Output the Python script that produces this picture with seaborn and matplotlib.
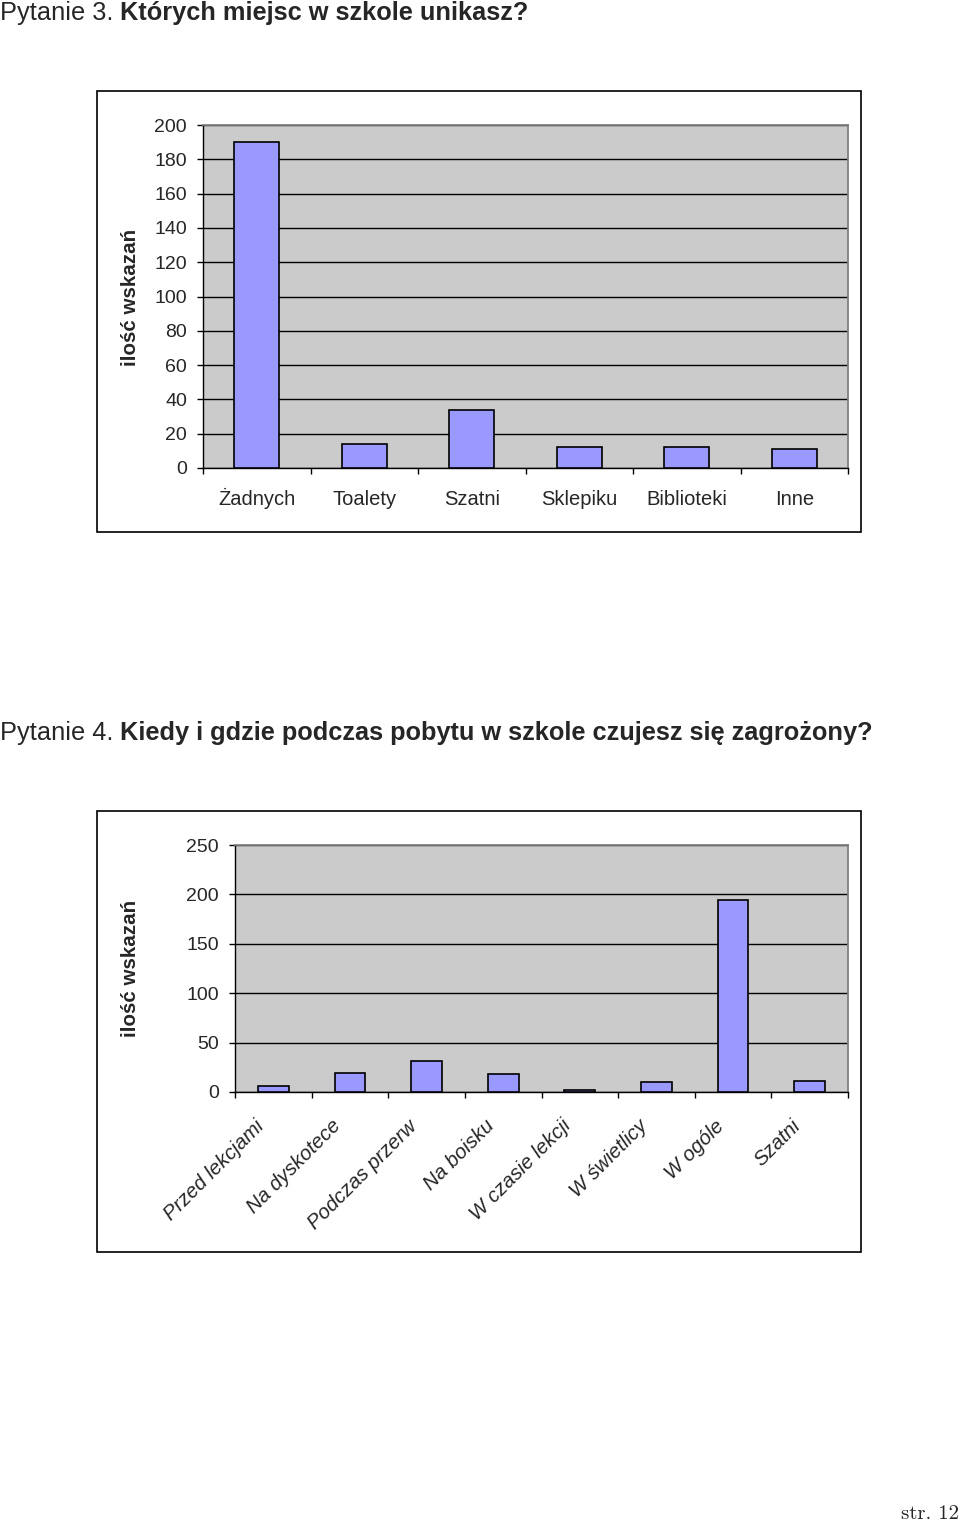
import matplotlib
matplotlib.use("Agg")
import matplotlib.pyplot as plt
import seaborn as sns
import pandas as pd
from matplotlib.patches import Rectangle
from matplotlib.ticker import FixedLocator, MultipleLocator
from matplotlib.transforms import ScaledTranslation

# ---- data ----
q3_categories = ["Żadnych", "Toalety", "Szatni", "Sklepiku", "Biblioteki", "Inne"]
q3_values = [190, 14, 34, 12, 12, 11]

q4_categories = ["Przed lekcjami", "Na dyskotece", "Podczas przerw", "Na boisku",
                 "W czasie lekcji", "W świetlicy", "W ogóle", "Szatni"]
q4_values = [6, 19, 31, 18, 2, 10, 194, 11]

q3_title_plain = "Pytanie 3. "
q3_title_bold = "Których miejsc w szkole unikasz?"
q4_title_plain = "Pytanie 4. "
q4_title_bold = "Kiedy i gdzie podczas pobytu w szkole czujesz się zagrożony?"
y_label = "ilość wskazań"
page_label = "str. 12"

sns.set_style("white")
plt.rcParams["font.family"] = ["Liberation Sans", "DejaVu Sans"]

W, H = 960, 1521
fig = plt.figure(figsize=(W / 100, H / 100), dpi=100)
fig.patch.set_facecolor("white")

BAR = "#9999FF"
BG = "#CBCBCB"
FS = 14


def fx(px):
    return px / W


def fy(py):
    return 1 - py / H


def axes_px(x0, y0, x1, y1):
    return fig.add_axes([fx(x0), fy(y1), fx(x1) - fx(x0), (y1 - y0) / H])


def style_axes(ax, n, ymax, ystep):
    ax.set_facecolor(BG)
    ax.set_xlim(-0.5, n - 0.5)
    ax.set_ylim(0, ymax)
    ax.yaxis.set_major_locator(MultipleLocator(ystep))
    ax.yaxis.grid(True, color="black", linewidth=1.0)
    ax.xaxis.grid(False)
    ax.set_axisbelow(True)
    for s in ["left", "bottom"]:
        ax.spines[s].set_color("black")
        ax.spines[s].set_linewidth(1.0)
    for s in ["top", "right"]:
        ax.spines[s].set_color("#808080")
        ax.spines[s].set_linewidth(1.3)
    ax.xaxis.set_minor_locator(FixedLocator([i - 0.5 for i in range(n + 1)]))
    ax.tick_params(axis="x", which="major", length=0)
    ax.tick_params(axis="x", which="minor", length=4.5, width=1.0, color="black", direction="out", bottom=True)
    ax.tick_params(axis="y", which="major", length=4.5, width=1.0, color="black", direction="out",
                   left=True, labelsize=FS, pad=7)
    ax.set_xlabel("")
    ax.set_ylabel("")


def two_part_title(plain, bold, x_px, y_px, size):
    t1 = fig.text(fx(x_px), fy(y_px), plain, fontsize=size, ha="left", va="baseline")
    r = fig.canvas.get_renderer()
    bb = t1.get_window_extent(renderer=r)
    fig.text(bb.x1 / W, fy(y_px), bold, fontsize=size, fontweight="bold", ha="left", va="baseline")


# ---- chart 1 ----
fig.add_artist(Rectangle((fx(97), fy(532)), fx(861) - fx(97), (532 - 91) / H,
                         transform=fig.transFigure, fill=False, edgecolor="black", linewidth=1.2))
ax1 = axes_px(203, 125, 848, 468)
df1 = pd.DataFrame({"cat": q3_categories, "val": q3_values})
sns.barplot(data=df1, x="cat", y="val", color=BAR, saturation=1, width=0.42,
            edgecolor="black", linewidth=1.2, ax=ax1, zorder=3)
style_axes(ax1, len(q3_categories), 200, 20)
ax1.tick_params(axis="x", which="major", labelsize=14.5, pad=26.5)
for lab in ax1.get_xticklabels():
    lab.set_va("baseline")
fig.text(fx(130), fy(297), y_label, rotation=90, fontsize=14.8, fontweight="bold", ha="center", va="center")

two_part_title(q3_title_plain, q3_title_bold, 0, 20, 18.3)

# ---- chart 2 ----
fig.add_artist(Rectangle((fx(97), fy(1252)), fx(861) - fx(97), (1252 - 811) / H,
                         transform=fig.transFigure, fill=False, edgecolor="black", linewidth=1.2))
ax2 = axes_px(235, 845, 848, 1092)
df2 = pd.DataFrame({"cat": q4_categories, "val": q4_values})
sns.barplot(data=df2, x="cat", y="val", color=BAR, saturation=1, width=0.40,
            edgecolor="black", linewidth=1.2, ax=ax2, zorder=3)
style_axes(ax2, len(q4_categories), 250, 50)
ax2.set_xticklabels([])
offset = ScaledTranslation(-0.12, -0.31, fig.dpi_scale_trans)
for i, c in enumerate(q4_categories):
    ax2.text(i, 0, c, transform=ax2.get_xaxis_transform() + offset, rotation=45,
             rotation_mode="anchor", ha="right", va="center", fontsize=14.7,
             fontstyle="italic", clip_on=False)
fig.text(fx(130), fy(968), y_label, rotation=90, fontsize=14.8, fontweight="bold", ha="center", va="center")

two_part_title(q4_title_plain, q4_title_bold, 0, 740, 18.3)

fig.text(fx(959), fy(1519), page_label, fontsize=15, family=["cmr10", "DejaVu Serif"],
         ha="right", va="baseline")

fig.savefig("out.png", dpi=100)
